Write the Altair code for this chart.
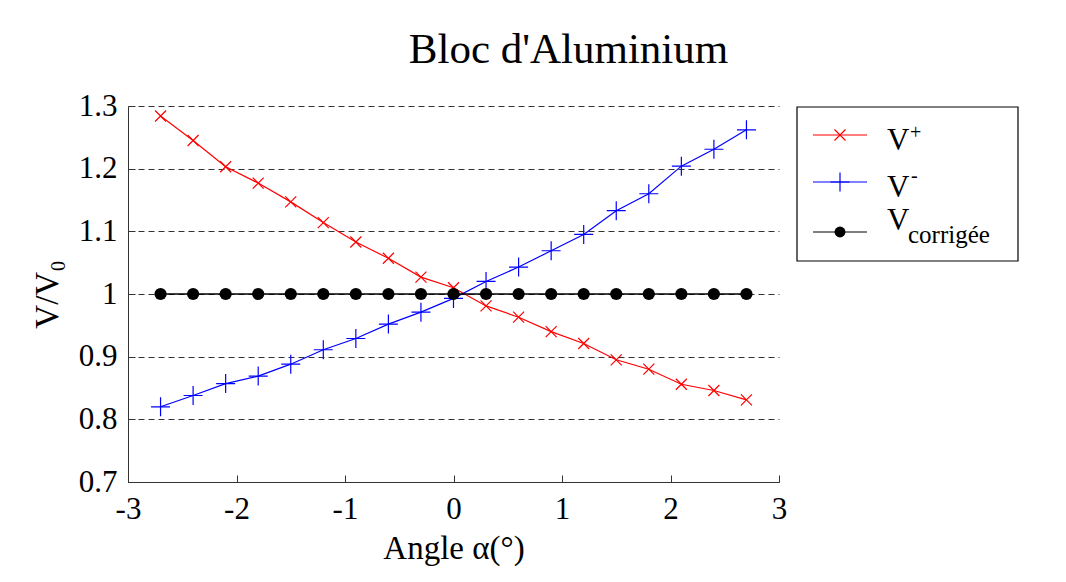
import altair as alt
import pandas as pd

# ---- data ----
angles = [-2.7, -2.4, -2.1, -1.8, -1.5, -1.2, -0.9, -0.6, -0.3, 0.0,
          0.3, 0.6, 0.9, 1.2, 1.5, 1.8, 2.1, 2.4, 2.7]
v_plus = [1.284, 1.245, 1.203, 1.177, 1.147, 1.114, 1.083, 1.057, 1.027, 1.010,
          0.981, 0.963, 0.940, 0.921, 0.895, 0.880, 0.856, 0.846, 0.831]
v_minus = [0.820, 0.838, 0.857, 0.869, 0.888, 0.911, 0.929, 0.952, 0.971, 0.993,
           1.020, 1.043, 1.069, 1.095, 1.133, 1.160, 1.204, 1.231, 1.262]
v_corr = [1.0, 1.0, 1.0, 1.0, 1.0, 1.0, 1.0, 1.0, 1.0, 1.0,
          1.0, 1.0, 1.0, 1.0, 1.0, 1.0, 1.0, 1.0, 1.0]
x_ticks = [-3, -2, -1, 0, 1, 2, 3]
y_ticks = [0.7, 0.8, 0.9, 1.0, 1.1, 1.2, 1.3]
title_text = "Bloc d'Aluminium"
x_title = "Angle α(°)"
y_title = "V/V₀"

FONT = "Liberation Serif"
W, H = 651, 376
AX = "#333333"

df_plus = pd.DataFrame({"angle": angles, "v": v_plus})
df_minus = pd.DataFrame({"angle": angles, "v": v_minus})
df_corr = pd.DataFrame({"angle": angles, "v": v_corr})
one = pd.DataFrame({"k": [0]})

xs = alt.Scale(domain=[-3, 3], nice=False)
ys = alt.Scale(domain=[0.7, 1.3], nice=False, zero=False)

X_SHAPE = "M-1,-1L1,1M-1,1L1,-1"
P_SHAPE = "M-1,0L1,0M0,-1L0,1"

x_main = alt.Axis(values=x_ticks, labelExpr="'' + datum.value", labelFont=FONT,
                  labelFontSize=31, labelColor="black", labelPadding=12, ticks=False,
                  labelFlush=False, labelOverlap=False,
                  domainColor=AX, domainWidth=1, grid=False, title=x_title,
                  titleFont=FONT, titleFontSize=33, titleFontWeight="normal",
                  titleColor="black", titlePadding=8)
y_main = alt.Axis(values=y_ticks, labelExpr="'' + datum.value", labelFont=FONT,
                  labelFontSize=31, labelColor="black", labelPadding=11, ticks=False,
                  labelFlush=False, labelOverlap=False,
                  domainColor=AX, domainWidth=1, grid=True, gridDash=[6, 4],
                  gridColor=AX, gridWidth=1, title=y_title, titleFont=FONT,
                  titleFontSize=33, titleFontWeight="normal", titleColor="black",
                  titlePadding=14)
x_in = alt.Axis(orient="top", offset=-H, values=x_ticks, labels=False, domain=False,
                ticks=True, tickSize=7, tickColor=AX, grid=False, title=None)
y_in = alt.Axis(orient="right", offset=-W, values=y_ticks, labels=False, domain=False,
                ticks=True, tickSize=7, tickColor=AX, grid=False, title=None)

red_line = alt.Chart(df_plus).mark_line(color="#ff0000", strokeWidth=1.2).encode(
    x=alt.X("angle:Q", scale=xs, axis=x_main),
    y=alt.Y("v:Q", scale=ys, axis=y_main))
red_pts = alt.Chart(df_plus).mark_point(shape=X_SHAPE, size=121, filled=False,
                                        color="#ff0000", strokeWidth=1.2, opacity=1).encode(
    x=alt.X("angle:Q", scale=xs, axis=x_in),
    y=alt.Y("v:Q", scale=ys, axis=y_in))
blue_line = alt.Chart(df_minus).mark_line(color="#0000ff", strokeWidth=1.2).encode(
    x=alt.X("angle:Q", scale=xs, axis=None),
    y=alt.Y("v:Q", scale=ys, axis=None))
blue_pts = alt.Chart(df_minus).mark_point(shape=P_SHAPE, size=361, filled=False,
                                          color="#0000ff", strokeWidth=1.2, opacity=1).encode(
    x=alt.X("angle:Q", scale=xs, axis=None),
    y=alt.Y("v:Q", scale=ys, axis=None))
black_line = alt.Chart(df_corr).mark_line(color="black", strokeWidth=1.5).encode(
    x=alt.X("angle:Q", scale=xs, axis=None),
    y=alt.Y("v:Q", scale=ys, axis=None))
black_pts = alt.Chart(df_corr).mark_circle(size=150, color="black", opacity=1).encode(
    x=alt.X("angle:Q", scale=xs, axis=None),
    y=alt.Y("v:Q", scale=ys, axis=None))

# ---- hand-drawn legend (box at the right of the plot) ----
LX0, LX1, LY0, LY1 = 669, 890, 1, 155
legend_layers = [
    alt.Chart(one).mark_rect(fill="white", stroke="black", strokeWidth=1.2).encode(
        x=alt.value(LX0), x2=alt.value(LX1), y=alt.value(LY0), y2=alt.value(LY1))
]
rows = [(29, "#ff0000", "x"), (76, "#0000ff", "+"), (126, "black", "o")]
for ry, col, kind in rows:
    legend_layers.append(alt.Chart(one).mark_rule(color=col, strokeWidth=1.2).encode(
        x=alt.value(685), x2=alt.value(739), y=alt.value(ry)))
    if kind == "x":
        legend_layers.append(alt.Chart(one).mark_point(shape=X_SHAPE, size=121, filled=False,
                             color=col, strokeWidth=1.2, opacity=1).encode(
            x=alt.value(712), y=alt.value(ry)))
    elif kind == "+":
        legend_layers.append(alt.Chart(one).mark_point(shape=P_SHAPE, size=361, filled=False,
                             color=col, strokeWidth=1.2, opacity=1).encode(
            x=alt.value(712), y=alt.value(ry)))
    else:
        legend_layers.append(alt.Chart(one).mark_circle(size=120, color=col, opacity=1).encode(
            x=alt.value(712), y=alt.value(ry)))


def txt(s, x, y, size):
    return alt.Chart(one).mark_text(text=s, font=FONT, fontSize=size, align="left",
                                    baseline="alphabetic", color="black").encode(
        x=alt.value(x), y=alt.value(y))


legend_layers += [
    txt("V", 759, 44, 31), txt("+", 782, 33, 20),
    txt("V", 759, 91, 31), txt("-", 783, 76, 20),
    txt("V", 759, 124, 31), txt("corrigée", 780, 137, 25),
]

chart = alt.layer(
    red_line, red_pts, blue_line, blue_pts, black_line, black_pts, *legend_layers
).resolve_axis(x="independent", y="independent").properties(
    width=W, height=H,
    title=alt.TitleParams(title_text, font=FONT, fontSize=43, fontWeight="normal",
                          color="black", anchor="middle", frame="group", dx=115,
                          baseline="alphabetic", offset=-16),
    autosize=alt.AutoSizeParams(type="none"),
    padding={"left": 120, "top": 98, "right": 270, "bottom": 96},
    background="white",
).configure_view(stroke=None)

chart.save("out.html", embed_options={"renderer": "svg", "actions": False})
